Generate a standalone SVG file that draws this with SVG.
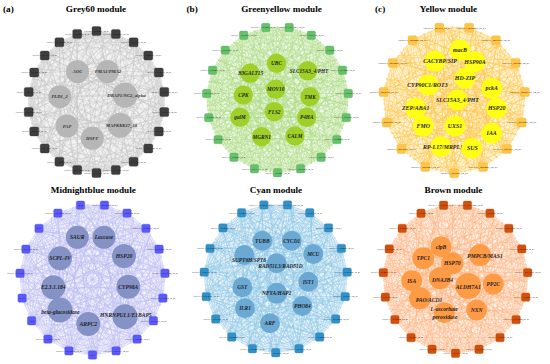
<svg xmlns="http://www.w3.org/2000/svg" xmlns:xlink="http://www.w3.org/1999/xlink" width="550" height="364" viewBox="0 0 550 364">
<style>
.t{font-family:"Liberation Serif","Times New Roman",serif;font-weight:bold;font-size:9.2px;fill:#000}
.e{fill:none;stroke-width:.62}
.d{stroke:none}
.ea{stroke:#c4c4c4}.ea .d{fill:#f2f2f2}
.eb{stroke:#aedc85}.eb .d{fill:#f1f9ea}
.ec{stroke:#ffc447}.ec .d{fill:#fff6dc}
.ed{stroke:#bcbcf2}.ed .d{fill:#f3f3fd}
.ee{stroke:#8fc8e6}.ee .d{fill:#edf6fb}
.ef{stroke:#ffb585}.ef .d{fill:#fff4eb}
.s{stroke-width:.3}
.s text{font-family:"Liberation Serif","Times New Roman",serif;font-size:2.3px;text-anchor:middle;fill:#111;stroke:none}
.sa{fill:#3e3e3e;stroke:#2a2a2a}
.sb{fill:#66c26a;stroke:#4aa850}
.sc{fill:#ffc547;stroke:#eeae2c}
.sc text{font-size:2.8px;font-style:italic}
.sd{fill:#5a5aff;stroke:#3d3de0}
.se{fill:#3291c9;stroke:#2278ad}
.sf{fill:#d4500a;stroke:#b54000}
.n text{font-family:"Liberation Serif","Times New Roman",serif;font-weight:bold;font-style:italic;text-anchor:middle;fill:#1e1e1e}
.na{fill:#b6b6b6}.na text{font-size:4.7px;fill:#333}
.nb{fill:#9fd028}.nb text{font-size:5.3px}
.nc{fill:#ffff14}.nc text{font-size:5.9px}
.nd{fill:#8492c6}.nd text{font-size:5.6px}
.ne{fill:#6aa9d3}.ne text{font-size:5.4px}
.nf{fill:#ff9a45}.nf text{font-size:5.6px}
</style>
<defs>
<rect id="q9" x="-4.5" y="-4.5" width="9" height="9" rx="1.6"/>
<rect id="q8" x="-4.2" y="-4.2" width="8.4" height="8.4" rx="1.5"/>
<path id="m19" d="M16.5 -98.6L47.6 -88L73.6 -67.7L91.6 -40.2L99.7 -8.3L96.9 24.6L83.7 54.7L61.4 78.9L32.5 94.6L0 100L-32.5 94.6L-61.4 78.9L-83.7 54.7L-96.9 24.6L-99.7 -8.3L-91.6 -40.2L-73.6 -67.7L-47.6 -88L-16.5 -98.6Z M16.5 -98.6L73.6 -67.7L99.7 -8.3L83.7 54.7L32.5 94.6L-32.5 94.6L-83.7 54.7L-99.7 -8.3L-73.6 -67.7L-16.5 -98.6L47.6 -88L91.6 -40.2L96.9 24.6L61.4 78.9L0 100L-61.4 78.9L-96.9 24.6L-91.6 -40.2L-47.6 -88Z M16.5 -98.6L91.6 -40.2L83.7 54.7L0 100L-83.7 54.7L-91.6 -40.2L-16.5 -98.6L73.6 -67.7L96.9 24.6L32.5 94.6L-61.4 78.9L-99.7 -8.3L-47.6 -88L47.6 -88L99.7 -8.3L61.4 78.9L-32.5 94.6L-96.9 24.6L-73.6 -67.7Z M16.5 -98.6L99.7 -8.3L32.5 94.6L-83.7 54.7L-73.6 -67.7L47.6 -88L96.9 24.6L0 100L-96.9 24.6L-47.6 -88L73.6 -67.7L83.7 54.7L-32.5 94.6L-99.7 -8.3L-16.5 -98.6L91.6 -40.2L61.4 78.9L-61.4 78.9L-91.6 -40.2Z M16.5 -98.6L96.9 24.6L-32.5 94.6L-91.6 -40.2L47.6 -88L83.7 54.7L-61.4 78.9L-73.6 -67.7L73.6 -67.7L61.4 78.9L-83.7 54.7L-47.6 -88L91.6 -40.2L32.5 94.6L-96.9 24.6L-16.5 -98.6L99.7 -8.3L0 100L-99.7 -8.3Z M16.5 -98.6L83.7 54.7L-83.7 54.7L-16.5 -98.6L96.9 24.6L-61.4 78.9L-47.6 -88L99.7 -8.3L-32.5 94.6L-73.6 -67.7L91.6 -40.2L0 100L-91.6 -40.2L73.6 -67.7L32.5 94.6L-99.7 -8.3L47.6 -88L61.4 78.9L-96.9 24.6Z M16.5 -98.6L61.4 78.9L-99.7 -8.3L73.6 -67.7L0 100L-73.6 -67.7L99.7 -8.3L-61.4 78.9L-16.5 -98.6L83.7 54.7L-96.9 24.6L47.6 -88L32.5 94.6L-91.6 -40.2L91.6 -40.2L-32.5 94.6L-47.6 -88L96.9 24.6L-83.7 54.7Z M16.5 -98.6L32.5 94.6L-73.6 -67.7L96.9 24.6L-96.9 24.6L73.6 -67.7L-32.5 94.6L-16.5 -98.6L61.4 78.9L-91.6 -40.2L99.7 -8.3L-83.7 54.7L47.6 -88L0 100L-47.6 -88L83.7 54.7L-99.7 -8.3L91.6 -40.2L-61.4 78.9Z M16.5 -98.6L0 100L-16.5 -98.6L32.5 94.6L-47.6 -88L61.4 78.9L-73.6 -67.7L83.7 54.7L-91.6 -40.2L96.9 24.6L-99.7 -8.3L99.7 -8.3L-96.9 24.6L91.6 -40.2L-83.7 54.7L73.6 -67.7L-61.4 78.9L47.6 -88L-32.5 94.6Z"/>
<path id="f19a" d="M0 -20L16.5 -98.6M0 -20L47.6 -88M0 -20L73.6 -67.7M0 -20L91.6 -40.2M0 -20L99.7 -8.3M0 -20L96.9 24.6M0 -20L83.7 54.7M0 -20L61.4 78.9M0 -20L32.5 94.6M0 -20L0 100M0 -20L-32.5 94.6M0 -20L-61.4 78.9M0 -20L-83.7 54.7M0 -20L-96.9 24.6M0 -20L-99.7 -8.3M0 -20L-91.6 -40.2M0 -20L-73.6 -67.7M0 -20L-47.6 -88M0 -20L-16.5 -98.6"/>
<path id="f19b" d="M0 -50L16.5 -98.6M0 -50L47.6 -88M0 -50L73.6 -67.7M0 -50L91.6 -40.2M0 -50L99.7 -8.3M0 -50L96.9 24.6M0 -50L83.7 54.7M0 -50L61.4 78.9M0 -50L32.5 94.6M0 -50L0 100M0 -50L-32.5 94.6M0 -50L-61.4 78.9M0 -50L-83.7 54.7M0 -50L-96.9 24.6M0 -50L-99.7 -8.3M0 -50L-91.6 -40.2M0 -50L-73.6 -67.7M0 -50L-47.6 -88M0 -50L-16.5 -98.6"/>
<path id="f19c" d="M0 -60L16.5 -98.6M0 -60L47.6 -88M0 -60L73.6 -67.7M0 -60L91.6 -40.2M0 -60L99.7 -8.3M0 -60L96.9 24.6M0 -60L83.7 54.7M0 -60L61.4 78.9M0 -60L32.5 94.6M0 -60L0 100M0 -60L-32.5 94.6M0 -60L-61.4 78.9M0 -60L-83.7 54.7M0 -60L-96.9 24.6M0 -60L-99.7 -8.3M0 -60L-91.6 -40.2M0 -60L-73.6 -67.7M0 -60L-47.6 -88M0 -60L-16.5 -98.6"/>
<path id="m22" d="M0 -100L28.2 -95.9L54.1 -84.1L75.6 -65.5L91 -41.5L99 -14.2L99 14.2L91 41.5L75.6 65.5L54.1 84.1L28.2 95.9L0 100L-28.2 95.9L-54.1 84.1L-75.6 65.5L-91 41.5L-99 14.2L-99 -14.2L-91 -41.5L-75.6 -65.5L-54.1 -84.1L-28.2 -95.9Z M0 -100L54.1 -84.1L91 -41.5L99 14.2L75.6 65.5L28.2 95.9L-28.2 95.9L-75.6 65.5L-99 14.2L-91 -41.5L-54.1 -84.1Z M28.2 -95.9L75.6 -65.5L99 -14.2L91 41.5L54.1 84.1L0 100L-54.1 84.1L-91 41.5L-99 -14.2L-75.6 -65.5L-28.2 -95.9Z M0 -100L75.6 -65.5L99 14.2L54.1 84.1L-28.2 95.9L-91 41.5L-91 -41.5L-28.2 -95.9L54.1 -84.1L99 -14.2L75.6 65.5L0 100L-75.6 65.5L-99 -14.2L-54.1 -84.1L28.2 -95.9L91 -41.5L91 41.5L28.2 95.9L-54.1 84.1L-99 14.2L-75.6 -65.5Z M0 -100L91 -41.5L75.6 65.5L-28.2 95.9L-99 14.2L-54.1 -84.1L54.1 -84.1L99 14.2L28.2 95.9L-75.6 65.5L-91 -41.5Z M28.2 -95.9L99 -14.2L54.1 84.1L-54.1 84.1L-99 -14.2L-28.2 -95.9L75.6 -65.5L91 41.5L0 100L-91 41.5L-75.6 -65.5Z M0 -100L99 -14.2L28.2 95.9L-91 41.5L-54.1 -84.1L75.6 -65.5L75.6 65.5L-54.1 84.1L-91 -41.5L28.2 -95.9L99 14.2L0 100L-99 14.2L-28.2 -95.9L91 -41.5L54.1 84.1L-75.6 65.5L-75.6 -65.5L54.1 -84.1L91 41.5L-28.2 95.9L-99 -14.2Z M0 -100L91 41.5L-75.6 65.5L-28.2 -95.9L99 14.2L-54.1 84.1L-54.1 -84.1L99 -14.2L-28.2 95.9L-75.6 -65.5L91 -41.5L0 100L-91 -41.5L75.6 -65.5L28.2 95.9L-99 -14.2L54.1 -84.1L54.1 84.1L-99 14.2L28.2 -95.9L75.6 65.5L-91 41.5Z M0 -100L54.1 84.1L-91 -41.5L99 -14.2L-75.6 65.5L28.2 -95.9L28.2 95.9L-75.6 -65.5L99 14.2L-91 41.5L54.1 -84.1L0 100L-54.1 -84.1L91 41.5L-99 14.2L75.6 -65.5L-28.2 95.9L-28.2 -95.9L75.6 65.5L-99 -14.2L91 -41.5L-54.1 84.1Z"/>
<path id="f22a" d="M0 -40L0 -100M0 -40L28.2 -95.9M0 -40L54.1 -84.1M0 -40L75.6 -65.5M0 -40L91 -41.5M0 -40L99 -14.2M0 -40L99 14.2M0 -40L91 41.5M0 -40L75.6 65.5M0 -40L54.1 84.1M0 -40L28.2 95.9M0 -40L0 100M0 -40L-28.2 95.9M0 -40L-54.1 84.1M0 -40L-75.6 65.5M0 -40L-91 41.5M0 -40L-99 14.2M0 -40L-99 -14.2M0 -40L-91 -41.5M0 -40L-75.6 -65.5M0 -40L-54.1 -84.1M0 -40L-28.2 -95.9"/>
<path id="f22b" d="M0 -52L0 -100M0 -52L28.2 -95.9M0 -52L54.1 -84.1M0 -52L75.6 -65.5M0 -52L91 -41.5M0 -52L99 -14.2M0 -52L99 14.2M0 -52L91 41.5M0 -52L75.6 65.5M0 -52L54.1 84.1M0 -52L28.2 95.9M0 -52L0 100M0 -52L-28.2 95.9M0 -52L-54.1 84.1M0 -52L-75.6 65.5M0 -52L-91 41.5M0 -52L-99 14.2M0 -52L-99 -14.2M0 -52L-91 -41.5M0 -52L-75.6 -65.5M0 -52L-54.1 -84.1M0 -52L-28.2 -95.9"/>
<path id="m15" d="M20.8 -97.8L58.8 -80.9L86.6 -50L99.5 -10.5L95.1 30.9L74.3 66.9L40.7 91.4L0 100L-40.7 91.4L-74.3 66.9L-95.1 30.9L-99.5 -10.5L-86.6 -50L-58.8 -80.9L-20.8 -97.8Z M20.8 -97.8L86.6 -50L95.1 30.9L40.7 91.4L-40.7 91.4L-95.1 30.9L-86.6 -50L-20.8 -97.8L58.8 -80.9L99.5 -10.5L74.3 66.9L0 100L-74.3 66.9L-99.5 -10.5L-58.8 -80.9Z M20.8 -97.8L99.5 -10.5L40.7 91.4L-74.3 66.9L-86.6 -50Z M58.8 -80.9L95.1 30.9L0 100L-95.1 30.9L-58.8 -80.9Z M86.6 -50L74.3 66.9L-40.7 91.4L-99.5 -10.5L-20.8 -97.8Z M20.8 -97.8L95.1 30.9L-40.7 91.4L-86.6 -50L58.8 -80.9L74.3 66.9L-74.3 66.9L-58.8 -80.9L86.6 -50L40.7 91.4L-95.1 30.9L-20.8 -97.8L99.5 -10.5L0 100L-99.5 -10.5Z M20.8 -97.8L74.3 66.9L-95.1 30.9Z M58.8 -80.9L40.7 91.4L-99.5 -10.5Z M86.6 -50L0 100L-86.6 -50Z M99.5 -10.5L-40.7 91.4L-58.8 -80.9Z M95.1 30.9L-74.3 66.9L-20.8 -97.8Z M20.8 -97.8L40.7 91.4L-86.6 -50L99.5 -10.5L-74.3 66.9Z M58.8 -80.9L0 100L-58.8 -80.9L95.1 30.9L-95.1 30.9Z M86.6 -50L-40.7 91.4L-20.8 -97.8L74.3 66.9L-99.5 -10.5Z M20.8 -97.8L0 100L-20.8 -97.8L40.7 91.4L-58.8 -80.9L74.3 66.9L-86.6 -50L95.1 30.9L-99.5 -10.5L99.5 -10.5L-95.1 30.9L86.6 -50L-74.3 66.9L58.8 -80.9L-40.7 91.4Z"/>
<path id="f15o" d="M0 0L20.8 -97.8M0 0L58.8 -80.9M0 0L86.6 -50M0 0L99.5 -10.5M0 0L95.1 30.9M0 0L74.3 66.9M0 0L40.7 91.4M0 0L0 100M0 0L-40.7 91.4M0 0L-74.3 66.9M0 0L-95.1 30.9M0 0L-99.5 -10.5M0 0L-86.6 -50M0 0L-58.8 -80.9M0 0L-20.8 -97.8"/>
<path id="f15a" d="M0 -35L20.8 -97.8M0 -35L58.8 -80.9M0 -35L86.6 -50M0 -35L99.5 -10.5M0 -35L95.1 30.9M0 -35L74.3 66.9M0 -35L40.7 91.4M0 -35L0 100M0 -35L-40.7 91.4M0 -35L-74.3 66.9M0 -35L-95.1 30.9M0 -35L-99.5 -10.5M0 -35L-86.6 -50M0 -35L-58.8 -80.9M0 -35L-20.8 -97.8"/>
<path id="f15b" d="M0 -50L20.8 -97.8M0 -50L58.8 -80.9M0 -50L86.6 -50M0 -50L99.5 -10.5M0 -50L95.1 30.9M0 -50L74.3 66.9M0 -50L40.7 91.4M0 -50L0 100M0 -50L-40.7 91.4M0 -50L-74.3 66.9M0 -50L-95.1 30.9M0 -50L-99.5 -10.5M0 -50L-86.6 -50M0 -50L-58.8 -80.9M0 -50L-20.8 -97.8"/>
<path id="f15c" d="M0 -62L20.8 -97.8M0 -62L58.8 -80.9M0 -62L86.6 -50M0 -62L99.5 -10.5M0 -62L95.1 30.9M0 -62L74.3 66.9M0 -62L40.7 91.4M0 -62L0 100M0 -62L-40.7 91.4M0 -62L-74.3 66.9M0 -62L-95.1 30.9M0 -62L-99.5 -10.5M0 -62L-86.6 -50M0 -62L-58.8 -80.9M0 -62L-20.8 -97.8"/>
</defs>

<g id="connectors">
<g id="a-edges" class="e ea" transform="translate(96.5 102) scale(.685 .71)">
<circle class="d" r="99"/>
<use href="#m22"/>
<use href="#f22b" transform="rotate(-33.3)"/>
<use href="#f22a" transform="rotate(19.7)"/>
<use href="#f22b" transform="rotate(-82)"/>
<use href="#f22a" transform="rotate(76.4)"/>
<use href="#f22b" transform="rotate(-128.4)"/>
<use href="#f22b" transform="rotate(134.6)"/>
<use href="#f22b" transform="rotate(186.8)"/>
</g>
<g id="b-edges" class="e eb" transform="translate(277.5 99.6) scale(.71 .731)">
<circle class="d" r="99"/>
<use href="#m19"/>
<use href="#f19b" transform="rotate(-2.9)"/>
<use href="#f19b" transform="rotate(-47.1)"/>
<use href="#f19c" transform="rotate(47.1)"/>
<use href="#f19b" transform="rotate(-82.6)"/>
<use href="#f19a" transform="rotate(-10)"/>
<use href="#f19b" transform="rotate(85)"/>
<use href="#f19a" transform="rotate(195.2)"/>
<use href="#f19c" transform="rotate(245.4)"/>
<use href="#f19b" transform="rotate(120.5)"/>
<use href="#f19c" transform="rotate(203.7)"/>
<use href="#f19c" transform="rotate(153.7)"/>
</g>
<g id="c-edges" class="e ec" transform="translate(454.2 99.7) scale(.71 .735)">
<circle class="d" r="99"/>
<use href="#m15"/>
<use href="#f15c" transform="rotate(6.9)"/>
<use href="#f15c" transform="rotate(-27.1)"/>
<use href="#f15c" transform="rotate(29.5)"/>
<use href="#f15a" transform="rotate(27.6)"/>
<use href="#f15a" transform="rotate(-61.3)"/>
<use href="#f15b" transform="rotate(73.6)"/>
<use href="#f15o"/>
<use href="#f15b" transform="rotate(257.8)"/>
<use href="#f15c" transform="rotate(101)"/>
<use href="#f15c" transform="rotate(230.5)"/>
<use href="#f15a" transform="rotate(178.2)"/>
<use href="#f15c" transform="rotate(130.9)"/>
<use href="#f15c" transform="rotate(196.2)"/>
<use href="#f15c" transform="rotate(159.6)"/>
</g>
<g id="d-edges" class="e ed" transform="translate(92.5 279.5) scale(.727 .755)">
<circle class="d" r="99"/>
<use href="#m19"/>
<use href="#f19c" transform="rotate(-20.5)"/>
<use href="#f19c" transform="rotate(15.8)"/>
<use href="#f19b" transform="rotate(-57.8)"/>
<use href="#f19b" transform="rotate(54.3)"/>
<use href="#f19b" transform="rotate(259.2)"/>
<use href="#f19b" transform="rotate(100.9)"/>
<use href="#f19c" transform="rotate(227.9)"/>
<use href="#f19c" transform="rotate(137.8)"/>
<use href="#f19c" transform="rotate(185.6)"/>
</g>
<g id="e-edges" class="e ee" transform="translate(275.7 278.3) scale(.717 .744)">
<circle class="d" r="99"/>
<use href="#m19"/>
<use href="#f19b" transform="rotate(-20.3)"/>
<use href="#f19c" transform="rotate(23.8)"/>
<use href="#f19b" transform="rotate(-54.5)"/>
<use href="#f19c" transform="rotate(58)"/>
<use href="#f19a" transform="rotate(4)"/>
<use href="#f19b" transform="rotate(255.4)"/>
<use href="#f19b" transform="rotate(95.8)"/>
<use href="#f19a" transform="rotate(176)"/>
<use href="#f19c" transform="rotate(226.7)"/>
<use href="#f19b" transform="rotate(135)"/>
<use href="#f19c" transform="rotate(187.4)"/>
</g>
<g id="f-edges" class="e ef" transform="translate(455.5 278.8) scale(.724 .745)">
<circle class="d" r="99"/>
<use href="#m19"/>
<use href="#f19b" transform="rotate(-24.9)"/>
<use href="#f19b" transform="rotate(-58.3)"/>
<use href="#f19b" transform="rotate(46.7)"/>
<use href="#f19a" transform="rotate(-11.9)"/>
<use href="#f19c" transform="rotate(267.5)"/>
<use href="#f19a" transform="rotate(271.9)"/>
<use href="#f19a" transform="rotate(118.7)"/>
<use href="#f19b" transform="rotate(97.6)"/>
<use href="#f19c" transform="rotate(241.9)"/>
<use href="#f19b" transform="rotate(198.8)"/>
<use href="#f19b" transform="rotate(145)"/>
</g>
</g>

<g id="titles">
<text class="t" x="3" y="12">(a)</text>
<text class="t" x="96" y="12" text-anchor="middle">Grey60 module</text>
<text class="t" x="186.5" y="12">(b)</text>
<text class="t" x="281.5" y="12" text-anchor="middle">Greenyellow module</text>
<text class="t" x="375" y="12">(c)</text>
<text class="t" x="448.5" y="12" text-anchor="middle">Yellow module</text>
<text class="t" x="93.3" y="192.5" text-anchor="middle">Midnightblue module</text>
<text class="t" x="276" y="192.5" text-anchor="middle">Cyan module</text>
<text class="t" x="453.5" y="192.5" text-anchor="middle">Brown module</text>
</g>

<g id="panel-a">
<g id="a-s0" class="s sa" transform="translate(96.5 31)"><use href="#q9"/><text y=".8">TRINITY_DN3471_c0_g1</text></g>
<g id="a-s1" class="s sa" transform="translate(115.8 33.9)"><use href="#q9"/><text y=".8">TRINITY_DN12895_c0_g1</text></g>
<g id="a-s2" class="s sa" transform="translate(133.6 42.3)"><use href="#q9"/><text y=".8">TRINITY_DN8823_c0_g1</text></g>
<g id="a-s3" class="s sa" transform="translate(148.3 55.5)"><use href="#q9"/><text y=".8">TRINITY_DN20417_c0_g1</text></g>
<g id="a-s4" class="s sa" transform="translate(158.8 72.5)"><use href="#q9"/><text y=".8">TRINITY_DN6619_c0_g1</text></g>
<g id="a-s5" class="s sa" transform="translate(164.3 91.9)"><use href="#q9"/><text y=".8">TRINITY_DN15302_c0_g1</text></g>
<g id="a-s6" class="s sa" transform="translate(164.3 112.1)"><use href="#q9"/><text y=".8">TRINITY_DN9978_c0_g1</text></g>
<g id="a-s7" class="s sa" transform="translate(158.8 131.5)"><use href="#q9"/><text y=".8">TRINITY_DN2264_c0_g1</text></g>
<g id="a-s8" class="s sa" transform="translate(148.3 148.5)"><use href="#q9"/><text y=".8">TRINITY_DN17740_c0_g1</text></g>
<g id="a-s9" class="s sa" transform="translate(133.6 161.7)"><use href="#q9"/><text y=".8">TRINITY_DN5128_c0_g1</text></g>
<g id="a-s10" class="s sa" transform="translate(115.8 170.1)"><use href="#q9"/><text y=".8">TRINITY_DN11093_c0_g1</text></g>
<g id="a-s11" class="s sa" transform="translate(96.5 173)"><use href="#q9"/><text y=".8">TRINITY_DN7356_c0_g1</text></g>
<g id="a-s12" class="s sa" transform="translate(77.2 170.1)"><use href="#q9"/><text y=".8">TRINITY_DN19822_c0_g1</text></g>
<g id="a-s13" class="s sa" transform="translate(59.4 161.7)"><use href="#q9"/><text y=".8">TRINITY_DN4470_c0_g1</text></g>
<g id="a-s14" class="s sa" transform="translate(44.7 148.5)"><use href="#q9"/><text y=".8">TRINITY_DN13587_c0_g1</text></g>
<g id="a-s15" class="s sa" transform="translate(34.2 131.5)"><use href="#q9"/><text y=".8">TRINITY_DN8012_c0_g1</text></g>
<g id="a-s16" class="s sa" transform="translate(28.7 112.1)"><use href="#q9"/><text y=".8">TRINITY_DN21456_c0_g1</text></g>
<g id="a-s17" class="s sa" transform="translate(28.7 91.9)"><use href="#q9"/><text y=".8">TRINITY_DN6734_c0_g1</text></g>
<g id="a-s18" class="s sa" transform="translate(34.2 72.5)"><use href="#q9"/><text y=".8">TRINITY_DN10981_c0_g1</text></g>
<g id="a-s19" class="s sa" transform="translate(44.7 55.5)"><use href="#q9"/><text y=".8">TRINITY_DN3319_c0_g1</text></g>
<g id="a-s20" class="s sa" transform="translate(59.4 42.3)"><use href="#q9"/><text y=".8">TRINITY_DN16205_c0_g1</text></g>
<g id="a-s21" class="s sa" transform="translate(77.2 33.9)"><use href="#q9"/><text y=".8">TRINITY_DN9547_c0_g1</text></g>
<g id="a-AOC" class="n na"><circle cx="77.5" cy="71.7" r="11.5"/><text x="77.5" y="73.3">AOC</text></g>
<g id="a-PMA" class="n na"><circle cx="107.5" cy="71.5" r="11.5"/><text x="108" y="73.1">PMA1/PMA2</text></g>
<g id="a-PLD" class="n na"><circle cx="59.8" cy="96.7" r="11.5"/><text x="59.5" y="98.3">PLD1_2</text></g>
<g id="a-DRAP" class="n na"><circle cx="125" cy="95.2" r="12.5"/><text x="126.5" y="96.8">DRAP1/NC2_alpha</text></g>
<g id="a-PAP" class="n na"><circle cx="67" cy="126" r="11.5"/><text x="67" y="127.6">PAP</text></g>
<g id="a-MAPKKK" class="n na"><circle cx="120" cy="125.2" r="12.5"/><text x="121.5" y="126.8">MAPKKK17_18</text></g>
<g id="a-HSFF" class="n na"><circle cx="92.3" cy="138.3" r="11.5"/><text x="92.3" y="139.9">HSFF</text></g>
</g>

<g id="panel-b">
<g id="b-s0" class="s sb" transform="translate(289.2 27.5)"><use href="#q8"/><text x="2.6" y=".8">TRINITY_DN14473_c0_g1</text></g>
<g id="b-s1" class="s sb" transform="translate(311.3 35.3)"><use href="#q8"/><text y=".8">TRINITY_DN7790_c0_g1</text></g>
<g id="b-s2" class="s sb" transform="translate(329.8 50.1)"><use href="#q8"/><text y=".8">TRINITY_DN18356_c0_g1</text></g>
<g id="b-s3" class="s sb" transform="translate(342.5 70.2)"><use href="#q8"/><text y=".8">TRINITY_DN5042_c0_g1</text></g>
<g id="b-s4" class="s sb" transform="translate(348.3 93.5)"><use href="#q8"/><text y=".8">TRINITY_DN12611_c0_g1</text></g>
<g id="b-s5" class="s sb" transform="translate(346.3 117.6)"><use href="#q8"/><text y=".8">TRINITY_DN9325_c0_g1</text></g>
<g id="b-s6" class="s sb" transform="translate(336.9 139.6)"><use href="#q8"/><text y=".8">TRINITY_DN20884_c0_g1</text></g>
<g id="b-s7" class="s sb" transform="translate(321.1 157.3)"><use href="#q8"/><text y=".8">TRINITY_DN3967_c0_g1</text></g>
<g id="b-s8" class="s sb" transform="translate(300.6 168.8)"><use href="#q8"/><text y=".8">TRINITY_DN16098_c0_g1</text></g>
<g id="b-s9" class="s sb" transform="translate(277.5 172.7)"><use href="#q8"/><text y=".8">TRINITY_DN8451_c0_g1</text></g>
<g id="b-s10" class="s sb" transform="translate(254.4 168.8)"><use href="#q8"/><text y=".8">TRINITY_DN11739_c0_g1</text></g>
<g id="b-s11" class="s sb" transform="translate(233.9 157.3)"><use href="#q8"/><text y=".8">TRINITY_DN4583_c0_g1</text></g>
<g id="b-s12" class="s sb" transform="translate(218.1 139.6)"><use href="#q8"/><text y=".8">TRINITY_DN19270_c0_g1</text></g>
<g id="b-s13" class="s sb" transform="translate(208.7 117.6)"><use href="#q8"/><text y=".8">TRINITY_DN6826_c0_g1</text></g>
<g id="b-s14" class="s sb" transform="translate(206.7 93.5)"><use href="#q8"/><text y=".8">TRINITY_DN13914_c0_g1</text></g>
<g id="b-s15" class="s sb" transform="translate(212.5 70.2)"><use href="#q8"/><text y=".8">TRINITY_DN2479_c0_g1</text></g>
<g id="b-s16" class="s sb" transform="translate(225.2 50.1)"><use href="#q8"/><text y=".8">TRINITY_DN17652_c0_g1</text></g>
<g id="b-s17" class="s sb" transform="translate(243.7 35.3)"><use href="#q8"/><text y=".8">TRINITY_DN10367_c0_g1</text></g>
<g id="b-s18" class="s sb" transform="translate(265.8 27.5)"><use href="#q8"/><text x="-2.6" y=".8">TRINITY_DN1208_c0_g1</text></g>
<g id="b-UBC" class="n nb"><circle cx="276.5" cy="63.3" r="9.7"/><text x="276.5" y="65.2">UBC</text></g>
<g id="b-B3GALT15" class="n nb"><circle cx="250" cy="73.3" r="9.7"/><text x="250.5" y="75.2">B3GALT15</text></g>
<g id="b-SLC" class="n nb"><circle cx="307.7" cy="70.7" r="9.7"/><text x="309" y="72.6">SLC15A3_4/PHT</text></g>
<g id="b-CPK" class="n nb"><circle cx="243.3" cy="95" r="9.7"/><text x="243.3" y="96.9">CPK</text></g>
<g id="b-MOV10" class="n nb"><circle cx="275.7" cy="89.3" r="9.7"/><text x="275.7" y="91.2">MOV10</text></g>
<g id="b-TMK" class="n nb"><circle cx="310" cy="96.7" r="9.7"/><text x="310" y="98.6">TMK</text></g>
<g id="b-FLS2" class="n nb"><circle cx="274.3" cy="111.7" r="9.7"/><text x="274.3" y="113.6">FLS2</text></g>
<g id="b-galM" class="n nb"><circle cx="240" cy="117.3" r="9.7"/><text x="240" y="119.2">galM</text></g>
<g id="b-P4HA" class="n nb"><circle cx="306.7" cy="117.3" r="9.7"/><text x="306.7" y="119.2">P4HA</text></g>
<g id="b-MGRN1" class="n nb"><circle cx="261.7" cy="136.7" r="9.7"/><text x="261.7" y="138.6">MGRN1</text></g>
<g id="b-CALM" class="n nb"><circle cx="295" cy="136" r="9.7"/><text x="295" y="137.9">CALM</text></g>
</g>

<g id="panel-c">
<g id="c-s0" class="s sc" transform="translate(469 27.8)"><use href="#q9"/><text x="2.2" y=".9">TRINITY_DN8003_c0_g1</text></g>
<g id="c-s1" class="s sc" transform="translate(495.9 40.2)"><use href="#q9"/><text y=".9">TRINITY_DN4470_c0_g1</text></g>
<g id="c-s2" class="s sc" transform="translate(515.7 62.9)"><use href="#q9"/><text y=".9">TRINITY_DN998_c0_g1</text></g>
<g id="c-s3" class="s sc" transform="translate(524.8 92)"><use href="#q9"/><text y=".9">TRINITY_DN52157_c0_g1</text></g>
<g id="c-s4" class="s sc" transform="translate(521.7 122.4)"><use href="#q9"/><text y=".9">TRINITY_DN9051_c0_g1</text></g>
<g id="c-s5" class="s sc" transform="translate(507 148.9)"><use href="#q9"/><text y=".9">TRINITY_DN3211_c0_g1</text></g>
<g id="c-s6" class="s sc" transform="translate(483.1 166.9)"><use href="#q9"/><text y=".9">TRINITY_DN5001_c0_g1</text></g>
<g id="c-s7" class="s sc" transform="translate(454.2 173.2)"><use href="#q9"/><text y=".9">TRINITY_DN299_c0_g1</text></g>
<g id="c-s8" class="s sc" transform="translate(425.3 166.9)"><use href="#q9"/><text y=".9">TRINITY_DN4601_c0_g1</text></g>
<g id="c-s9" class="s sc" transform="translate(401.4 148.9)"><use href="#q9"/><text y=".9">TRINITY_DN3689_c0_g1</text></g>
<g id="c-s10" class="s sc" transform="translate(386.7 122.4)"><use href="#q9"/><text y=".9">TRINITY_DN6245_c0_g1</text></g>
<g id="c-s11" class="s sc" transform="translate(383.6 92)"><use href="#q9"/><text y=".9">TRINITY_DN8478_c0_g1</text></g>
<g id="c-s12" class="s sc" transform="translate(392.7 62.9)"><use href="#q9"/><text y=".9">TRINITY_DN9604_c0_g1</text></g>
<g id="c-s13" class="s sc" transform="translate(412.5 40.2)"><use href="#q9"/><text y=".9">TRINITY_DN9808_c0_g1</text></g>
<g id="c-s14" class="s sc" transform="translate(439.4 27.8)"><use href="#q9"/><text x="-2.2" y=".9">TRINITY_DN477_c0_g1</text></g>
<g id="c-macB" class="n nc"><circle cx="460" cy="50" r="10.5"/><text x="460" y="52.1">macB</text></g>
<g id="c-CACYBP" class="n nc"><circle cx="435" cy="61" r="10.5"/><text x="440" y="63.1">CACYBP/SIP</text></g>
<g id="c-HSP90A" class="n nc"><circle cx="475" cy="61.7" r="10.5"/><text x="475" y="63.8">HSP90A</text></g>
<g id="c-HDZIP" class="n nc"><circle cx="465" cy="78.3" r="10.5"/><text x="465" y="80.4">HD-ZIP</text></g>
<g id="c-CYP90C1" class="n nc"><circle cx="428.3" cy="85" r="10.5"/><text x="427.5" y="87.1">CYP90C1/ROT3</text></g>
<g id="c-pckA" class="n nc"><circle cx="491.7" cy="88.3" r="10.5"/><text x="491.7" y="90.4">pckA</text></g>
<g id="c-SLC" class="n nc"><circle cx="457.3" cy="100" r="10.5"/><text x="457.5" y="102.1">SLC15A3_4/PHT</text></g>
<g id="c-ZEP" class="n nc"><circle cx="415.7" cy="108.3" r="10.5"/><text x="415.7" y="110.4">ZEP/ABA1</text></g>
<g id="c-HSP20" class="n nc"><circle cx="496.7" cy="108.3" r="10.5"/><text x="496.7" y="110.4">HSP20</text></g>
<g id="c-FMO" class="n nc"><circle cx="423.3" cy="126" r="10.5"/><text x="423.3" y="128.1">FMO</text></g>
<g id="c-UXS1" class="n nc"><circle cx="455" cy="126" r="10.5"/><text x="455" y="128.1">UXS1</text></g>
<g id="c-IAA" class="n nc"><circle cx="491.7" cy="133.3" r="10.5"/><text x="491.7" y="135.4">IAA</text></g>
<g id="c-RPL17" class="n nc"><circle cx="441" cy="146.7" r="10.5"/><text x="444.5" y="148.8">RP-L17/MRPL17</text></g>
<g id="c-SUS" class="n nc"><circle cx="471.7" cy="148.3" r="10.5"/><text x="472.5" y="150.4">SUS</text></g>
</g>

<g id="panel-d">
<g id="d-s0" class="s sd" transform="translate(104.5 205.1)"><use href="#q8"/><text y=".8">TRINITY_DN14902_c0_g1</text></g>
<g id="d-s1" class="s sd" transform="translate(127.1 213.1)"><use href="#q8"/><text y=".8">TRINITY_DN8764_c0_g1</text></g>
<g id="d-s2" class="s sd" transform="translate(146 228.4)"><use href="#q8"/><text y=".8">TRINITY_DN20351_c0_g1</text></g>
<g id="d-s3" class="s sd" transform="translate(159.1 249.1)"><use href="#q8"/><text y=".8">TRINITY_DN5827_c0_g1</text></g>
<g id="d-s4" class="s sd" transform="translate(165 273.2)"><use href="#q8"/><text y=".8">TRINITY_DN11648_c0_g1</text></g>
<g id="d-s5" class="s sd" transform="translate(162.9 298.1)"><use href="#q8"/><text y=".8">TRINITY_DN3092_c0_g1</text></g>
<g id="d-s6" class="s sd" transform="translate(153.4 320.8)"><use href="#q8"/><text y=".8">TRINITY_DN17215_c0_g1</text></g>
<g id="d-s7" class="s sd" transform="translate(137.1 339.1)"><use href="#q8"/><text y=".8">TRINITY_DN6483_c0_g1</text></g>
<g id="d-s8" class="s sd" transform="translate(116.1 350.9)"><use href="#q8"/><text y=".8">TRINITY_DN9371_c0_g1</text></g>
<g id="d-s9" class="s sd" transform="translate(92.5 355)"><use href="#q8"/><text y=".8">ERF3</text></g>
<g id="d-s10" class="s sd" transform="translate(68.9 350.9)"><use href="#q8"/><text y=".8">TRINITY_DN12076_c0_g1</text></g>
<g id="d-s11" class="s sd" transform="translate(47.9 339.1)"><use href="#q8"/><text y=".8">TRINITY_DN4519_c0_g1</text></g>
<g id="d-s12" class="s sd" transform="translate(31.6 320.8)"><use href="#q8"/><text y=".8">ARF2</text></g>
<g id="d-s13" class="s sd" transform="translate(22.1 298.1)"><use href="#q8"/><text y=".8">RAP1</text></g>
<g id="d-s14" class="s sd" transform="translate(20 273.2)"><use href="#q8"/><text y=".8">TRINITY_DN15830_c0_g1</text></g>
<g id="d-s15" class="s sd" transform="translate(25.9 249.1)"><use href="#q8"/><text y=".8">TRINITY_DN7194_c0_g1</text></g>
<g id="d-s16" class="s sd" transform="translate(39 228.4)"><use href="#q8"/><text y=".8">bZIP</text></g>
<g id="d-s17" class="s sd" transform="translate(57.9 213.1)"><use href="#q8"/><text y=".8">TRINITY_DN10562_c0_g1</text></g>
<g id="d-s18" class="s sd" transform="translate(80.5 205.1)"><use href="#q8"/><text y=".8">MYB</text></g>
<g id="d-SAUR" class="n nd"><circle cx="77.3" cy="237.3" r="11.5"/><text x="77.3" y="239.3">SAUR</text></g>
<g id="d-Laccase" class="n nd"><circle cx="104" cy="237.3" r="11.5"/><text x="104" y="239.3">Laccase</text></g>
<g id="d-SCPL" class="n nd"><circle cx="60" cy="258.3" r="12"/><text x="60" y="260.3">SCPL-IV</text></g>
<g id="d-HSP20" class="n nd"><circle cx="124" cy="256" r="12"/><text x="124" y="258">HSP20</text></g>
<g id="d-E2" class="n nd"><circle cx="53.3" cy="287.3" r="12"/><text x="53.3" y="289.3">E2.3.1.184</text></g>
<g id="d-CYP98A" class="n nd"><circle cx="128.3" cy="286.7" r="12"/><text x="128.3" y="288.7">CYP98A</text></g>
<g id="d-bglu" class="n nd"><circle cx="60" cy="310" r="12.5"/><text x="60.3" y="313.5">beta-glucosidase</text></g>
<g id="d-HNRNP" class="n nd"><circle cx="125" cy="316.7" r="12.5"/><text x="125.8" y="317">HNRNPUL1/E1BAP5</text></g>
<g id="d-ARPC2" class="n nd"><circle cx="88.3" cy="324" r="12"/><text x="88.3" y="326">ARPC2</text></g>
</g>

<g id="panel-e">
<g id="e-s0" class="s se" transform="translate(287.5 204.9)"><use href="#q8"/><text x="2.6" y=".8">TRINITY_DN13208_c0_g1</text></g>
<g id="e-s1" class="s se" transform="translate(309.8 212.8)"><use href="#q8"/><text y=".8">TRINITY_DN6152_c0_g1</text></g>
<g id="e-s2" class="s se" transform="translate(328.5 227.9)"><use href="#q8"/><text y=".8">TRINITY_DN19437_c0_g1</text></g>
<g id="e-s3" class="s se" transform="translate(341.4 248.4)"><use href="#q8"/><text y=".8">TRINITY_DN2875_c0_g1</text></g>
<g id="e-s4" class="s se" transform="translate(347.2 272.1)"><use href="#q8"/><text y=".8">TRINITY_DN11526_c0_g1</text></g>
<g id="e-s5" class="s se" transform="translate(345.2 296.6)"><use href="#q8"/><text y=".8">TRINITY_DN7413_c0_g1</text></g>
<g id="e-s6" class="s se" transform="translate(335.7 319)"><use href="#q8"/><text y=".8">TRINITY_DN16890_c0_g1</text></g>
<g id="e-s7" class="s se" transform="translate(319.7 337)"><use href="#q8"/><text y=".8">TRINITY_DN4068_c0_g1</text></g>
<g id="e-s8" class="s se" transform="translate(299 348.7)"><use href="#q8"/><text y=".8">TRINITY_DN9734_c0_g1</text></g>
<g id="e-s9" class="s se" transform="translate(275.7 352.7)"><use href="#q8"/><text y=".8">TRINITY_DN12359_c0_g1</text></g>
<g id="e-s10" class="s se" transform="translate(252.4 348.7)"><use href="#q8"/><text y=".8">TRINITY_DN5281_c0_g1</text></g>
<g id="e-s11" class="s se" transform="translate(231.7 337)"><use href="#q8"/><text y=".8">TRINITY_DN18046_c0_g1</text></g>
<g id="e-s12" class="s se" transform="translate(215.7 319)"><use href="#q8"/><text y=".8">TRINITY_DN3597_c0_g1</text></g>
<g id="e-s13" class="s se" transform="translate(206.2 296.6)"><use href="#q8"/><text y=".8">TRINITY_DN14721_c0_g1</text></g>
<g id="e-s14" class="s se" transform="translate(204.2 272.1)"><use href="#q8"/><text y=".8">TRINITY_DN8390_c0_g1</text></g>
<g id="e-s15" class="s se" transform="translate(210 248.4)"><use href="#q8"/><text y=".8">TRINITY_DN10974_c0_g1</text></g>
<g id="e-s16" class="s se" transform="translate(222.9 227.9)"><use href="#q8"/><text y=".8">TRINITY_DN6608_c0_g1</text></g>
<g id="e-s17" class="s se" transform="translate(241.6 212.8)"><use href="#q8"/><text y=".8">TRINITY_DN20153_c0_g1</text></g>
<g id="e-s18" class="s se" transform="translate(263.9 204.9)"><use href="#q8"/><text x="-2.6" y=".8">TRINITY_DN4832_c0_g1</text></g>
<g id="e-TUBB" class="n ne"><circle cx="262.3" cy="240.7" r="10"/><text x="262.3" y="242.6">TUBB</text></g>
<g id="e-CYCD1" class="n ne"><circle cx="291.7" cy="240.7" r="10"/><text x="291.7" y="242.6">CYCD1</text></g>
<g id="e-SUPT6H" class="n ne"><circle cx="244.3" cy="255" r="10"/><text x="249" y="261.9">SUPT6H/SPT6</text></g>
<g id="e-MCU" class="n ne"><circle cx="313.3" cy="254" r="10"/><text x="313.3" y="255.9">MCU</text></g>
<g id="e-RAD51" class="n ne"><circle cx="276.7" cy="263.3" r="10"/><text x="280.5" y="267.9">RAD51L3/RAD51D</text></g>
<g id="e-GST" class="n ne"><circle cx="242.3" cy="287.3" r="10"/><text x="242.3" y="289.2">GST</text></g>
<g id="e-IST1" class="n ne"><circle cx="308.3" cy="281.7" r="10"/><text x="308.3" y="283.6">IST1</text></g>
<g id="e-NFYA" class="n ne"><circle cx="276.7" cy="293.3" r="10.5"/><text x="276.7" y="295.2">NFYA/HAP2</text></g>
<g id="e-ILR1" class="n ne"><circle cx="245" cy="308.3" r="10"/><text x="245" y="310.2">ILR1</text></g>
<g id="e-PHO84" class="n ne"><circle cx="302.3" cy="306" r="10"/><text x="302.3" y="307.9">PHO84</text></g>
<g id="e-ARF" class="n ne"><circle cx="270" cy="323.3" r="10"/><text x="270" y="325.2">ARF</text></g>
</g>

<g id="panel-f">
<g id="f-s0" class="s sf" transform="translate(467.4 205.3)"><use href="#q8"/><text x="2.6" y=".8">TRINITY_DN11842_c0_g1</text></g>
<g id="f-s1" class="s sf" transform="translate(490 213.2)"><use href="#q8"/><text y=".8">TRINITY_DN5306_c0_g1</text></g>
<g id="f-s2" class="s sf" transform="translate(508.8 228.4)"><use href="#q8"/><text y=".8">TRINITY_DN17925_c0_g1</text></g>
<g id="f-s3" class="s sf" transform="translate(521.8 248.9)"><use href="#q8"/><text y=".8">TRINITY_DN2148_c0_g1</text></g>
<g id="f-s4" class="s sf" transform="translate(527.7 272.6)"><use href="#q8"/><text y=".8">TRINITY_DN13670_c0_g1</text></g>
<g id="f-s5" class="s sf" transform="translate(525.7 297.1)"><use href="#q8"/><text y=".8">TRINITY_DN8231_c0_g1</text></g>
<g id="f-s6" class="s sf" transform="translate(516.1 319.6)"><use href="#q8"/><text y=".8">TRINITY_DN19504_c0_g1</text></g>
<g id="f-s7" class="s sf" transform="translate(500 337.6)"><use href="#q8"/><text y=".8">TRINITY_DN4719_c0_g1</text></g>
<g id="f-s8" class="s sf" transform="translate(479 349.3)"><use href="#q8"/><text y=".8">TRINITY_DN10288_c0_g1</text></g>
<g id="f-s9" class="s sf" transform="translate(455.5 353.3)"><use href="#q8"/><text y=".8">TRINITY_DN6957_c0_g1</text></g>
<g id="f-s10" class="s sf" transform="translate(432 349.3)"><use href="#q8"/><text y=".8">TRINITY_DN15413_c0_g1</text></g>
<g id="f-s11" class="s sf" transform="translate(411 337.6)"><use href="#q8"/><text y=".8">TRINITY_DN3086_c0_g1</text></g>
<g id="f-s12" class="s sf" transform="translate(394.9 319.6)"><use href="#q8"/><text y=".8">TRINITY_DN12744_c0_g1</text></g>
<g id="f-s13" class="s sf" transform="translate(385.3 297.1)"><use href="#q8"/><text y=".8">TRINITY_DN7562_c0_g1</text></g>
<g id="f-s14" class="s sf" transform="translate(383.3 272.6)"><use href="#q8"/><text y=".8">TRINITY_DN20631_c0_g1</text></g>
<g id="f-s15" class="s sf" transform="translate(389.2 248.9)"><use href="#q8"/><text y=".8">TRINITY_DN9185_c0_g1</text></g>
<g id="f-s16" class="s sf" transform="translate(402.2 228.4)"><use href="#q8"/><text y=".8">TRINITY_DN14097_c0_g1</text></g>
<g id="f-s17" class="s sf" transform="translate(421 213.2)"><use href="#q8"/><text y=".8">TRINITY_DN2593_c0_g1</text></g>
<g id="f-s18" class="s sf" transform="translate(443.6 205.3)"><use href="#q8"/><text x="-2.6" y=".8">TRINITY_DN16370_c0_g1</text></g>
<g id="f-clpB" class="n nf"><circle cx="441" cy="246.7" r="10.5"/><text x="441" y="248.7">clpB</text></g>
<g id="f-TPC1" class="n nf"><circle cx="423.3" cy="258.3" r="11"/><text x="423.3" y="260.3">TPC1</text></g>
<g id="f-PMPCB" class="n nf"><circle cx="480" cy="255" r="11"/><text x="485" y="258">PMPCB/MAS1</text></g>
<g id="f-HSP70" class="n nf"><circle cx="452.3" cy="263.3" r="11"/><text x="452.3" y="265.3">HSP70</text></g>
<g id="f-ISA" class="n nf"><circle cx="411.7" cy="280.7" r="10.5"/><text x="411.7" y="282.7">ISA</text></g>
<g id="f-DNAJB4" class="n nf"><circle cx="440" cy="278.3" r="11"/><text x="442.5" y="282">DNAJB4</text></g>
<g id="f-ALDH7A1" class="n nf"><circle cx="468.3" cy="286" r="13"/><text x="468.3" y="289.3">ALDH7A1</text></g>
<g id="f-PP2C" class="n nf"><circle cx="493.3" cy="284" r="10.5"/><text x="493.3" y="286">PP2C</text></g>
<g id="f-PAO" class="n nf"><circle cx="420" cy="298.3" r="11"/><text x="429" y="302">PAO/ACD1</text></g>
<g id="f-LAPX" class="n nf"><circle cx="444.3" cy="312.7" r="10.5"/><text y="311.3"><tspan x="444.2">L-ascorbate</tspan><tspan x="445" y="318.7">peroxidase</tspan></text></g>
<g id="f-NXN" class="n nf"><circle cx="476.7" cy="310" r="10.5"/><text x="476.7" y="312">NXN</text></g>
</g>
</svg>
